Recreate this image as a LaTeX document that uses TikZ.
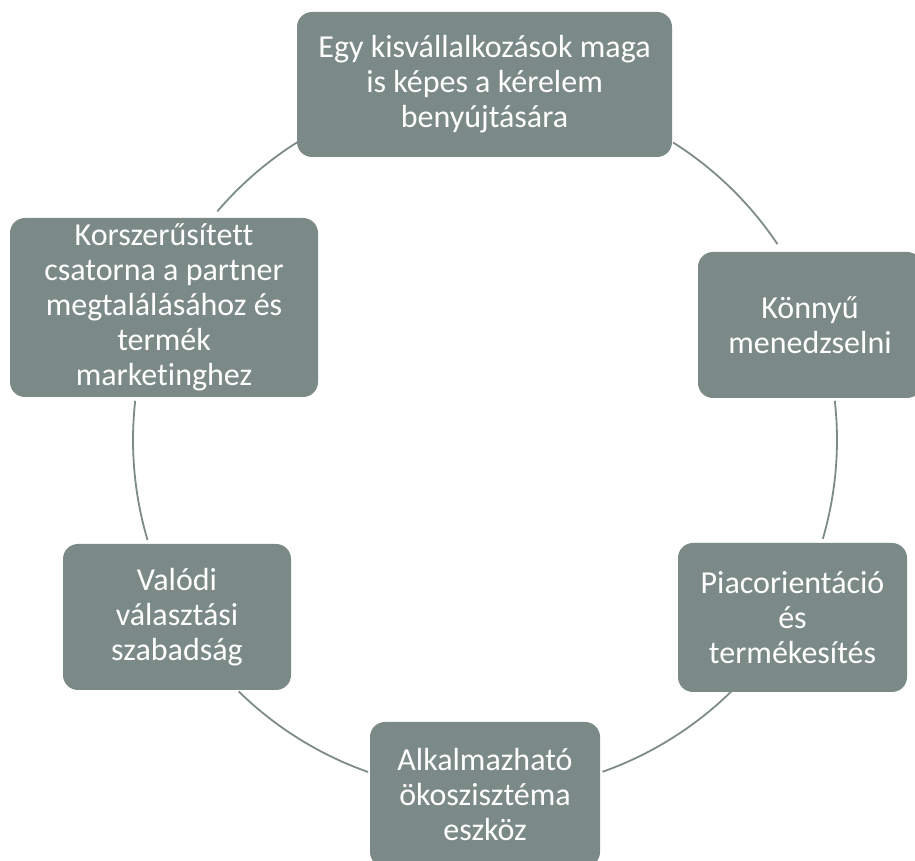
\documentclass[tikz,border=0pt]{standalone}
\usepackage{fontspec}
\setmainfont[Ligatures=NoCommon]{Carlito}
\usetikzlibrary{calc}
\definecolor{boxfill}{RGB}{123,138,135}
\definecolor{arcline}{RGB}{125,139,137}
\tikzset{
  cycbox/.style={rectangle, rounded corners=15pt, fill=boxfill, text=white,
    align=center, inner sep=0pt, font=\fontsize{32}{35}\selectfont},
  cycarc/.style={draw=arcline, line width=1.8pt}
}
\begin{document}
\begin{tikzpicture}[x=1pt,y=1pt]
\clip (0,0) rectangle (915,861);
\fill[white] (0,0) rectangle (915,861);
\coordinate (O) at (485,421);
\def\R{352}
% connectors along the cycle
\draw[cycarc] (O) ++(57.7:\R) arc[start angle=57.7, end angle=33.8, radius=\R];
\draw[cycarc] (O) ++(6.4:\R) arc[start angle=6.4, end angle=-16.3, radius=\R];
\draw[cycarc] (O) ++(-45.6:\R) arc[start angle=-45.6, end angle=-70.5, radius=\R];
\draw[cycarc] (O) ++(-109.4:\R) arc[start angle=-109.4, end angle=-134.4, radius=\R];
\draw[cycarc] (O) ++(196.5:\R) arc[start angle=196.5, end angle=173.6, radius=\R];
\draw[cycarc] (O) ++(139.5:\R) arc[start angle=139.5, end angle=122.2, radius=\R];
% boxes
\node[cycbox, minimum width=375pt, minimum height=145pt] (top) at (484.5,776.5)
  {Egy kisvállalkozások maga\\is képes a kérelem\\benyújtására};
\node[cycbox, minimum width=224pt, minimum height=146pt] (ru) at (810,536)
  {Könnyű\\menedzselni};
\node[cycbox, minimum width=229pt, minimum height=149pt] (rl) at (792.5,243.5)
  {Piacorientáció\\és\\termékesítés};
\node[cycbox, minimum width=230pt, minimum height=145pt] (bot) at (485,66.5)
  {Alkalmazható\\ökoszisztéma\\eszköz};
\node[cycbox, minimum width=228pt, minimum height=146pt] (ll) at (177,244)
  {Valódi\\választási\\szabadság};
\node[cycbox, minimum width=308pt, minimum height=179pt] (lu) at (164,553.5)
  {Korszerűsített\\csatorna a partner\\megtalálásához és\\termék\\marketinghez};
\end{tikzpicture}
\end{document}
